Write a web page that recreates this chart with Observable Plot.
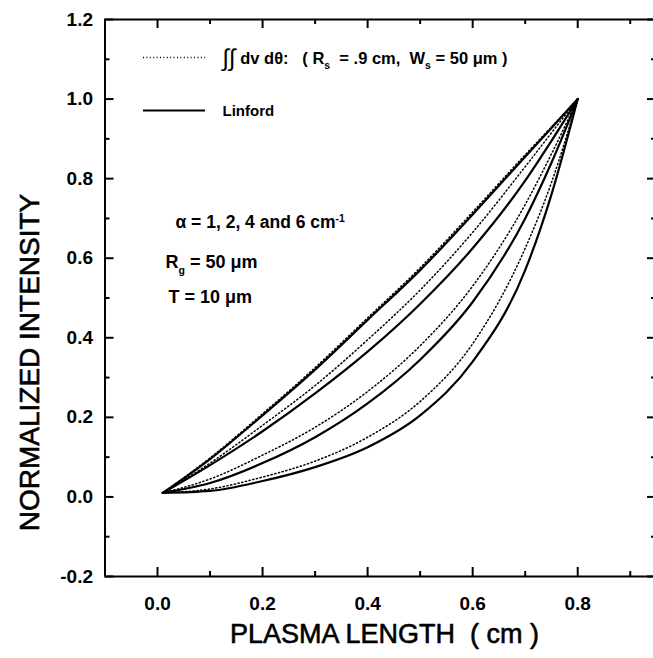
<!DOCTYPE html>
<html>
<head>
<meta charset="utf-8">
<script src="https://cdn.jsdelivr.net/npm/d3@7"></script>
<script src="https://cdn.jsdelivr.net/npm/@observablehq/plot@0.6"></script>
<style>
  html, body { margin: 0; padding: 0; background: #fff; }
  #chart svg { display: block; }
</style>
</head>
<body>
<div id="chart"></div>
<script>
// ---- data ----
const plasmaLength = [0.01, 0.1, 0.2, 0.3, 0.4, 0.5, 0.6, 0.7, 0.75, 0.8];
const linford1 = [0.01, 0.095, 0.205, 0.32, 0.445, 0.57, 0.71, 0.855, 0.927, 1.0];
const linford2 = [0.01, 0.08, 0.165, 0.26, 0.365, 0.485, 0.625, 0.795, 0.895, 1.0];
const linford4 = [0.01, 0.035, 0.085, 0.15, 0.235, 0.345, 0.49, 0.7, 0.84, 1.0];
const linford6 = [0.01, 0.015, 0.04, 0.075, 0.125, 0.205, 0.34, 0.57, 0.76, 1.0];
const integral1 = [0.01, 0.098, 0.209, 0.325, 0.45, 0.576, 0.716, 0.86, 0.93, 1.0];
const integral2 = [0.01, 0.085, 0.18, 0.28, 0.395, 0.52, 0.665, 0.83, 0.915, 1.0];
const integral4 = [0.01, 0.045, 0.105, 0.175, 0.265, 0.38, 0.53, 0.735, 0.862, 1.0];
const integral6 = [0.01, 0.02, 0.05, 0.09, 0.15, 0.24, 0.385, 0.625, 0.79, 1.0];

const xMajor = [0, 0.2, 0.4, 0.6, 0.8];
const xMinor = [0.1, 0.3, 0.5, 0.7, 0.9];
const yMajor = [-0.2, 0, 0.2, 0.4, 0.6, 0.8, 1.0, 1.2];
const yMinor = [-0.1, 0.1, 0.3, 0.5, 0.7, 0.9, 1.1];

const xTitle = "PLASMA LENGTH  ( cm )";
const yTitle = "NORMALIZED INTENSITY";
const legendIntegral = "∫∫ dv dθ:   ( R_{s}  = .9 cm,  W_{s} = 50 μm )";
const legendLinford = "Linford";
const notes = ["α = 1, 2, 4 and 6 cm^{-1}", "R_{g} = 50 μm", "T = 10 μm"];

// ---- build tables ----
function rows(values, series) {
  return plasmaLength.map((x, i) => ({x, y: values[i], series}));
}
const solidRows = [
  ...rows(linford1, "a1"), ...rows(linford2, "a2"), ...rows(linford4, "a4"), ...rows(linford6, "a6")
];
const dottedRows = [
  ...rows(integral1, "a1"), ...rows(integral2, "a2"), ...rows(integral4, "a4"), ...rows(integral6, "a6")
];

// geometry (the reference is cropped on the right, just inside its frame)
const L = 104.5, R = 656, T = 19, B = 576;
const xDomain = [-0.1, 0.95], xRange = [L, R];
const yDomain = [-0.2, 1.2], yRange = [B, T];
const X = d3.scaleLinear(xDomain, xRange);
const Y = d3.scaleLinear(yDomain, yRange);
const majorLen = 9, minorLen = 5;

const font = "'Liberation Sans', Arial, Helvetica, sans-serif";
const note = (text, px, py, size) => Plot.text([text], {
  frameAnchor: "top-left", dx: px - L, dy: py - T, text: d => d,
  textAnchor: "start", lineAnchor: "middle", fontSize: size, fontWeight: "bold", fill: "black"
});

const chart = Plot.plot({
  width: 653, height: 658,
  marginLeft: L, marginTop: T, marginBottom: 658 - B, marginRight: 0,
  x: {domain: xDomain, range: xRange, axis: null},
  y: {domain: yDomain, range: yRange, axis: null},
  style: {fontFamily: font, background: "white", color: "black"},
  marks: [
    // ticks
    Plot.ruleX(xMajor, {x: d => d, y1: -0.2, y2: Y.invert(B - majorLen), strokeWidth: 2}),
    Plot.ruleX(xMinor, {x: d => d, y1: -0.2, y2: Y.invert(B - minorLen), strokeWidth: 2}),
    Plot.ruleX(xMajor, {x: d => d, y1: 1.2, y2: Y.invert(T + majorLen), strokeWidth: 2}),
    Plot.ruleX(xMinor, {x: d => d, y1: 1.2, y2: Y.invert(T + minorLen), strokeWidth: 2}),
    Plot.ruleY(yMajor, {y: d => d, x1: -0.1, x2: X.invert(L + majorLen), strokeWidth: 2}),
    Plot.ruleY(yMinor, {y: d => d, x1: -0.1, x2: X.invert(L + minorLen), strokeWidth: 2}),
    Plot.ruleY(yMajor, {y: d => d, x1: 0.95, x2: X.invert(R - majorLen), strokeWidth: 2}),
    Plot.ruleY(yMinor, {y: d => d, x1: 0.95, x2: X.invert(R - minorLen), strokeWidth: 2}),
    // frame
    Plot.ruleX([-0.1, 0.95], {x: d => d, y1: -0.2, y2: 1.2, strokeWidth: 2}),
    Plot.ruleY([-0.2, 1.2], {y: d => d, x1: -0.1, x2: 0.95, strokeWidth: 2}),
    // tick labels
    Plot.text(xMajor, {x: d => d, y: -0.2, dy: 27, text: d => d.toFixed(1), fontSize: 19, fontWeight: "bold"}),
    Plot.text(yMajor, {x: -0.1, y: d => d, dx: -12, text: d => d.toFixed(1), textAnchor: "end", fontSize: 19, fontWeight: "bold"}),
    // axis titles
    Plot.text([xTitle], {frameAnchor: "top-left", dx: 384 - L, dy: 634 - T, text: d => d, textAnchor: "middle", lineAnchor: "middle", fontSize: 27, fill: "black", stroke: "black", strokeWidth: 0.6}),
    Plot.text([yTitle], {frameAnchor: "top-left", dx: 30 - L, dy: 362 - T, rotate: -90, text: d => d, textAnchor: "middle", lineAnchor: "middle", fontSize: 28, fill: "black", stroke: "black", strokeWidth: 0.6}),
    // curves
    Plot.line(dottedRows, {x: "x", y: "y", z: "series", stroke: "black", strokeWidth: 1.5, strokeDasharray: "1.2,2.6", curve: "monotone-x"}),
    Plot.line(solidRows, {x: "x", y: "y", z: "series", stroke: "black", strokeWidth: 2.2, curve: "monotone-x"}),
    // legend
    Plot.ruleY([Y.invert(57)], {y: d => d, x1: X.invert(143), x2: X.invert(205), stroke: "black", strokeWidth: 1.3, strokeDasharray: "1,2.4"}),
    Plot.ruleY([Y.invert(110)], {y: d => d, x1: X.invert(143), x2: X.invert(205), stroke: "black", strokeWidth: 2}),
    note(legendIntegral, 222, 58, 16.5),
    note(legendLinford, 222, 111, 15),
    note(notes[0], 175, 222, 17.5),
    note(notes[1], 165, 262, 18),
    note(notes[2], 168, 297, 18)
  ]
});

// rich text: _{sub}, ^{sup}, larger integral signs
const NS = "http://www.w3.org/2000/svg";
chart.querySelectorAll("text").forEach(t => {
  const s = t.textContent;
  if (!/[_^]\{|∫/.test(s)) return;
  const fs = parseFloat(t.getAttribute("font-size") || getComputedStyle(t).fontSize) || 15;
  t.textContent = "";
  const re = /_\{([^}]*)\}|\^\{([^}]*)\}|(∫+)|([^_^∫]+)/g;
  let m, shift = 0;
  while ((m = re.exec(s))) {
    const ts = document.createElementNS(NS, "tspan");
    let target = 0, size = null, txt;
    if (m[1] != null) { target = fs * 0.35; size = fs * 0.7; txt = m[1]; }
    else if (m[2] != null) { target = -fs * 0.4; size = fs * 0.7; txt = m[2]; }
    else if (m[3] != null) { target = fs * 0.12; size = fs * 1.6; txt = m[3]; ts.setAttribute("font-weight", "normal"); }
    else { txt = m[4]; }
    const dy = target - shift;
    if (dy) ts.setAttribute("dy", dy);
    shift = target;
    if (size) ts.setAttribute("font-size", size);
    ts.textContent = txt;
    t.appendChild(ts);
  }
});

document.getElementById("chart").appendChild(chart);
</script>
</body>
</html>
